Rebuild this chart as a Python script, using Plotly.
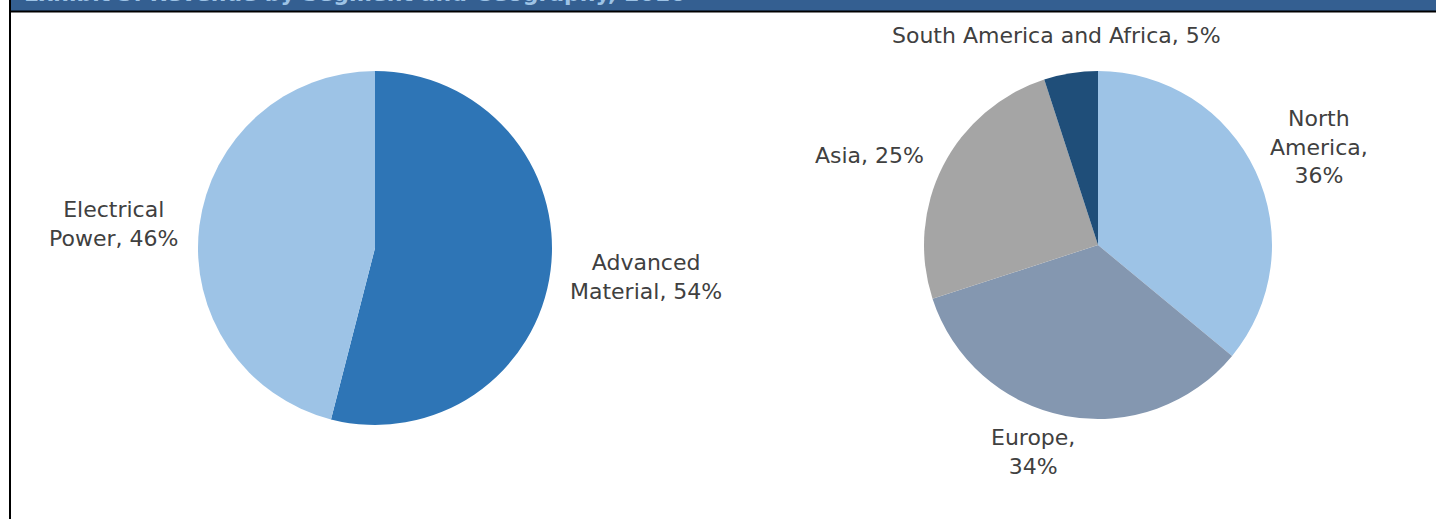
import plotly.graph_objects as go

W, H = 1436, 519

segments = ["Advanced Material", "Electrical Power"]
segment_values = [54, 46]
segment_colors = ["#2E75B6", "#9DC3E6"]
segment_labels = ["Advanced<br>Material, 54%", "Electrical<br>Power, 46%"]

regions = ["North America", "Europe", "Asia", "South America and Africa"]
region_values = [36, 34, 25, 5]
region_colors = ["#9DC3E6", "#8497B0", "#A5A5A5", "#1F4E79"]
region_labels = ["North<br>America,<br>36%", "Europe,<br>34%", "Asia, 25%", "South America and Africa, 5%"]

title_text = "Exhibit 3: Revenue by Segment and Geography, 2016"

def px(x):
    return x / W

def py(y):
    return 1 - y / H

fig = go.Figure()
fig.add_trace(go.Pie(
    labels=segments, values=segment_values, sort=False, direction="clockwise", rotation=0,
    marker=dict(colors=segment_colors, line=dict(width=0)), textinfo="none", hoverinfo="label+percent",
    domain=dict(x=[px(198), px(552)], y=[py(425), py(71)]), showlegend=False,
))
fig.add_trace(go.Pie(
    labels=regions, values=region_values, sort=False, direction="clockwise", rotation=0,
    marker=dict(colors=region_colors, line=dict(width=0)), textinfo="none", hoverinfo="label+percent",
    domain=dict(x=[px(924), px(1272)], y=[py(419), py(71)]), showlegend=False,
))

label_font = dict(family="DejaVu Sans, Verdana, sans-serif", size=22, color="#404040")
# (x center, y center) in pixels for each label
seg_pos = [(646, 277), (113, 224)]
reg_pos = [(1319, 147), (1033, 452), (869, 155), (1056, 36)]

annotations = []
for text, (x, y) in zip(segment_labels + region_labels, seg_pos + reg_pos):
    annotations.append(dict(text=text, x=px(x), y=py(y), xref="paper", yref="paper",
                            xanchor="center", yanchor="middle", showarrow=False,
                            font=label_font, align="center"))
annotations.append(dict(text="<b>" + title_text + "</b>", x=px(22), y=py(-7), xref="paper", yref="paper",
                        xanchor="left", yanchor="middle", showarrow=False,
                        font=dict(family="DejaVu Sans, sans-serif", size=22, color="#9DC3E6")))

shapes = [
    dict(type="rect", xref="paper", yref="paper", x0=px(10), x1=1, y0=py(11), y1=1,
         fillcolor="#345F91", line=dict(width=0), layer="below"),
    dict(type="line", xref="paper", yref="paper", x0=px(10), x1=1, y0=py(11.5), y1=py(11.5),
         line=dict(color="#000000", width=2)),
    dict(type="line", xref="paper", yref="paper", x0=px(10), x1=px(10), y0=0, y1=1,
         line=dict(color="#000000", width=2)),
]

fig.update_layout(
    width=W, height=H, margin=dict(l=0, r=0, t=0, b=0),
    paper_bgcolor="#FFFFFF", plot_bgcolor="#FFFFFF",
    annotations=annotations, shapes=shapes,
)
fig.write_html("out.html")
